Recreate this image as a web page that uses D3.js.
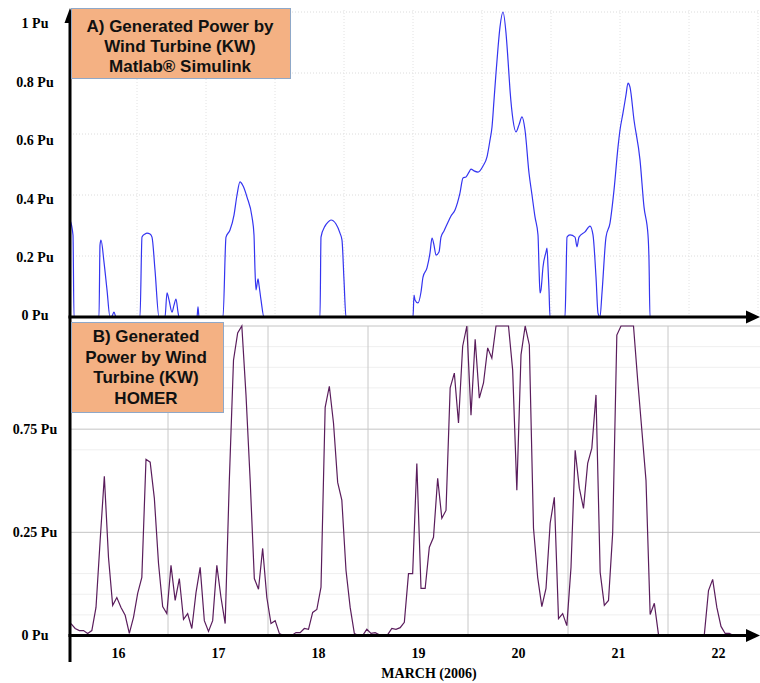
<!DOCTYPE html>
<html>
<head>
<meta charset="utf-8">
<script src="https://cdn.jsdelivr.net/npm/d3@7"></script>
<style>
  body { margin: 0; background: #fff; }
  svg { display: block; }
</style>
</head>
<body>
<div id="chart"></div>
<script>
// ---- data ----
// A) Simulink curve: day of March / power in Pu
var topTime = [16.02, 16.05, 16.06, 16.31, 16.32, 16.33, 16.36, 16.39, 16.42, 16.44, 16.46, 16.48,
  16.72, 16.74, 16.77, 16.79, 16.82, 16.84, 16.87, 16.91, 16.97, 16.99, 17.01, 17.04, 17.06, 17.08, 17.10, 17.11,
  17.29, 17.30, 17.31, 17.55, 17.58, 17.62, 17.66, 17.69, 17.72, 17.75, 17.79, 17.84, 17.86, 17.87, 17.88, 17.90,
  17.91, 17.93, 17.96, 18.52, 18.53, 18.57, 18.60, 18.63, 18.68, 18.72, 18.74, 18.76, 18.78,
  19.45, 19.46, 19.47, 19.50, 19.53, 19.55, 19.59, 19.62, 19.64, 19.66, 19.68, 19.71, 19.73, 19.76, 19.80, 19.83,
  19.87, 19.92, 19.95, 19.98, 20.01, 20.03, 20.06, 20.10, 20.15, 20.19, 20.22, 20.24, 20.26, 20.28, 20.30, 20.32,
  20.35, 20.38, 20.40, 20.42, 20.45, 20.48, 20.51, 20.54, 20.57, 20.61, 20.64, 20.67, 20.70, 20.71, 20.72, 20.73,
  20.75, 20.78, 20.79, 20.80, 20.81, 20.82, 20.97, 20.98, 20.99, 21.02, 21.07, 21.09, 21.11, 21.17, 21.22, 21.25,
  21.28, 21.30, 21.32, 21.34, 21.38, 21.42, 21.46, 21.50, 21.52, 21.55, 21.58, 21.60, 21.62, 21.66, 21.72, 21.76,
  21.80, 21.81, 21.82, 22.77];
var topPower = [0.318, 0.269, 0, 0, 0.236, 0.252, 0.18, 0.089, 0, 0.003, 0.016, 0,
  0, 0.262, 0.272, 0.275, 0.272, 0.262, 0.154, 0, 0, 0.079, 0.056, 0.016, 0.039, 0.059, 0.016, 0,
  0, 0.033, 0, 0, 0.262, 0.285, 0.334, 0.4, 0.443, 0.43, 0.393, 0.328, 0.269, 0.154, 0.089, 0.125,
  0.105, 0.056, 0, 0, 0.262, 0.298, 0.311, 0.318, 0.305, 0.275, 0.252, 0.121, 0,
  0, 0.072, 0.056, 0.046, 0.082, 0.131, 0.161, 0.21, 0.259, 0.236, 0.203, 0.213, 0.262, 0.282, 0.311, 0.331,
  0.351, 0.407, 0.456, 0.459, 0.475, 0.485, 0.479, 0.475, 0.495, 0.525, 0.58, 0.623, 0.711, 0.8, 0.882, 0.951,
  1.0, 0.931, 0.843, 0.744, 0.646, 0.607, 0.63, 0.656, 0.613, 0.472, 0.4, 0.328, 0.269, 0.164, 0.079, 0.089,
  0.164, 0.213, 0.226, 0.164, 0.089, 0, 0, 0.121, 0.262, 0.269, 0.262, 0.23, 0.262, 0.279, 0.298, 0.269,
  0.131, 0.013, 0, 0.079, 0.262, 0.308, 0.416, 0.557, 0.613, 0.669, 0.728, 0.767, 0.754, 0.646, 0.515, 0.361,
  0.269, 0.187, 0, 0];

// B) HOMER hourly values, first value at bottomStart (day of March)
var bottomStart = 16.03;
var bottomPower = [0.029, 0.017, 0.012, 0.012, 0.005, 0.012, 0.068, 0.231, 0.386, 0.189, 0.073, 0.092,
  0.068, 0.049, 0.005, 0.044, 0.102, 0.141, 0.427, 0.420, 0.333, 0.175, 0.070, 0.053,
  0.170, 0.085, 0.138, 0.039, 0.053, 0.017, 0.104, 0.165, 0.036, 0.010, 0.036, 0.170,
  0.092, 0.029, 0.376, 0.667, 0.733, 0.75, 0.583, 0.376, 0.138, 0.112, 0.211, 0.092,
  0.029, 0.036, 0.005, 0, 0, 0, 0.007, 0.007, 0.017, 0.015, 0.056, 0.063,
  0.117, 0.553, 0.604, 0.515, 0.371, 0.328, 0.158, 0.068, 0.005, 0, 0, 0.015,
  0.005, 0.007, 0.002, 0, 0.002, 0.017, 0.015, 0.019, 0.032, 0.150, 0.150, 0.417,
  0.114, 0.114, 0.214, 0.238, 0.381, 0.284, 0.303, 0.600, 0.636, 0.515, 0.701, 0.75,
  0.534, 0.718, 0.575, 0.612, 0.697, 0.672, 0.75, 0.75, 0.75, 0.75, 0.643, 0.352,
  0.680, 0.75, 0.704, 0.260, 0.141, 0.070, 0.114, 0.272, 0.335, 0.041, 0.053, 0.024,
  0.165, 0.449, 0.357, 0.308, 0.417, 0.454, 0.583, 0.153, 0.073, 0.085, 0.248, 0.728,
  0.75, 0.75, 0.75, 0.75, 0.619, 0.498, 0.376, 0.051, 0.078, 0.002, 0, 0,
  0, 0, 0, 0, 0, 0, 0, 0, 0.002, 0.109, 0.136, 0.068,
  0.022, 0.005, 0.005, 0];

var days = [16, 17, 18, 19, 20, 21, 22];
var topTickValues = [0, 0.2, 0.4, 0.6, 0.8, 1];
var topTickLabels = ["0 Pu", "0.2 Pu", "0.4 Pu", "0.6 Pu", "0.8 Pu", "1 Pu"];
var bottomTickValues = [0, 0.25, 0.5];
var bottomTickLabels = ["0 Pu", "0.25 Pu", "0.75 Pu"];
var bottomMinorGrid = [0.05, 0.1, 0.15, 0.45, 0.55, 0.6, 0.65, 0.7];
var topGridSteps = [1, 2, 3, 4, 5, 6, 7, 8, 9, 10];
var topTitle = ["A) Generated Power by", "Wind Turbine (KW)", "Matlab\u00ae Simulink"];
var bottomTitle = ["B) Generated", "Power by Wind", "Turbine (KW)", "HOMER"];
var xTitle = "MARCH (2006)";

// ---- layout ----
var width = 760, height = 683;
var axisX = 70;
var serif = "'Liberation Serif', 'Times New Roman', serif";
var sans = "'Liberation Sans', Arial, sans-serif";

var svg = d3.select("#chart").append("svg")
  .attr("width", width)
  .attr("height", height);

var x = d3.scaleLinear().domain([16, 22.92]).range([68, 760]);
var yTop = d3.scaleLinear().domain([0, 1]).range([317, 12]);
var yTopLabel = d3.scaleLinear().domain([0, 1]).range([315.5, 23.5]);
var yBot = d3.scaleLinear().domain([0, 0.75]).range([635.5, 326]);
var topGridX = d3.scaleLinear().domain([0, 10]).range([68, 758]);

// top panel grid (dotted)
svg.append("g").selectAll("line")
  .data(topTickValues.slice(1))
  .join("line")
  .attr("x1", axisX).attr("x2", 760)
  .attr("y1", d => yTop(d)).attr("y2", d => yTop(d))
  .attr("stroke", "#dcdcdc").attr("stroke-dasharray", "1,2");

svg.append("g").selectAll("line")
  .data(topGridSteps)
  .join("line")
  .attr("x1", d => topGridX(d)).attr("x2", d => topGridX(d))
  .attr("y1", 10).attr("y2", yTop(0))
  .attr("stroke", "#e2e2e2").attr("stroke-dasharray", "1,2");

// bottom panel grid
svg.append("g").selectAll("line")
  .data(bottomMinorGrid)
  .join("line")
  .attr("x1", axisX).attr("x2", 760)
  .attr("y1", d => yBot(d)).attr("y2", d => yBot(d))
  .attr("stroke", "#efefef");

svg.append("g").selectAll("line")
  .data([0.25, 0.5, 0.75])
  .join("line")
  .attr("x1", axisX).attr("x2", 760)
  .attr("y1", d => yBot(d)).attr("y2", d => yBot(d))
  .attr("stroke", "#c4c4c4");

svg.append("g").selectAll("line")
  .data(days.slice(1))
  .join("line")
  .attr("x1", d => x(d)).attr("x2", d => x(d))
  .attr("y1", yBot(0.75)).attr("y2", yBot(0))
  .attr("stroke", "#c8c8c8");

// lines
var topLine = d3.line()
  .x((d, i) => x(topTime[i]))
  .y(d => yTop(d))
  .curve(d3.curveMonotoneX);

svg.append("path")
  .datum(topPower)
  .attr("fill", "none")
  .attr("stroke", "#3434f0")
  .attr("stroke-width", 1.2)
  .attr("d", topLine);

var bottomLine = d3.line()
  .x((d, i) => x(bottomStart + i / 24))
  .y(d => yBot(d));

svg.append("path")
  .datum(bottomPower)
  .attr("fill", "none")
  .attr("stroke", "#5a1d5c")
  .attr("stroke-width", 1.2)
  .attr("d", bottomLine);

// axes lines + arrows
var axes = svg.append("g").attr("stroke", "#000").attr("stroke-width", 3);
axes.append("line").attr("x1", axisX).attr("x2", axisX).attr("y1", 662).attr("y2", 18);
axes.append("line").attr("x1", axisX - 1.5).attr("x2", 750).attr("y1", yTop(0)).attr("y2", yTop(0));
axes.append("line").attr("x1", axisX - 1.5).attr("x2", 750).attr("y1", yBot(0)).attr("y2", yBot(0));

svg.append("path")
  .attr("d", `M${axisX},8 L${axisX + 5.5},23 L${axisX - 5.5},23 Z`)
  .attr("fill", "#000");
[yTop(0), yBot(0)].forEach(function (yy) {
  svg.append("path")
    .attr("d", `M760,${yy} L746,${yy - 6.5} L746,${yy + 6.5} Z`)
    .attr("fill", "#000");
});

// y labels
var topAxis = d3.axisLeft(yTopLabel)
  .tickValues(topTickValues)
  .tickFormat((d, i) => topTickLabels[i])
  .tickSize(0);
var gTop = svg.append("g").attr("transform", `translate(${axisX},0)`).call(topAxis);
gTop.select(".domain").remove();
gTop.selectAll("text")
  .attr("x", -35).attr("text-anchor", "middle")
  .style("font-family", serif).style("font-size", "14px").style("font-weight", "bold").attr("fill", "#000");

var botAxis = d3.axisLeft(yBot)
  .tickValues(bottomTickValues)
  .tickFormat((d, i) => bottomTickLabels[i])
  .tickSize(0);
var gBot = svg.append("g").attr("transform", `translate(${axisX},0)`).call(botAxis);
gBot.select(".domain").remove();
gBot.selectAll("text")
  .attr("x", -35).attr("text-anchor", "middle")
  .style("font-family", serif).style("font-size", "14px").style("font-weight", "bold").attr("fill", "#000");

// x labels (centred on each day)
var xAxis = d3.axisBottom(x)
  .tickValues(days.map(d => d + 0.5))
  .tickFormat((d, i) => days[i])
  .tickSize(0)
  .tickPadding(13);
var gX = svg.append("g").attr("transform", `translate(0,${yBot(0)})`).call(xAxis);
gX.select(".domain").remove();
gX.selectAll("text")
  .style("font-family", serif).style("font-size", "14px").style("font-weight", "bold").attr("fill", "#000");

svg.append("text")
  .attr("x", 429).attr("y", 678)
  .attr("text-anchor", "middle")
  .style("font-family", serif).style("font-size", "14px").style("font-weight", "bold")
  .text(xTitle);

// title boxes
function titleBox(lines, x0, y0, w, h, cx, firstBase, step) {
  svg.append("rect")
    .attr("x", x0).attr("y", y0).attr("width", w).attr("height", h)
    .attr("fill", "#f4b183").attr("stroke", "#8fa8c8").attr("stroke-width", 1);
  svg.append("text")
    .attr("text-anchor", "middle")
    .style("font-family", sans).style("font-size", "17px").style("font-weight", "bold")
    .attr("fill", "#111")
    .selectAll("tspan")
    .data(lines)
    .join("tspan")
    .attr("x", cx)
    .attr("y", (d, i) => firstBase + i * step)
    .text(d => d);
}
titleBox(topTitle, 71.5, 8.5, 219, 70, 180, 31.5, 20.3);
titleBox(bottomTitle, 71.5, 322.5, 152, 90, 146, 342, 20.7);
</script>
</body>
</html>
